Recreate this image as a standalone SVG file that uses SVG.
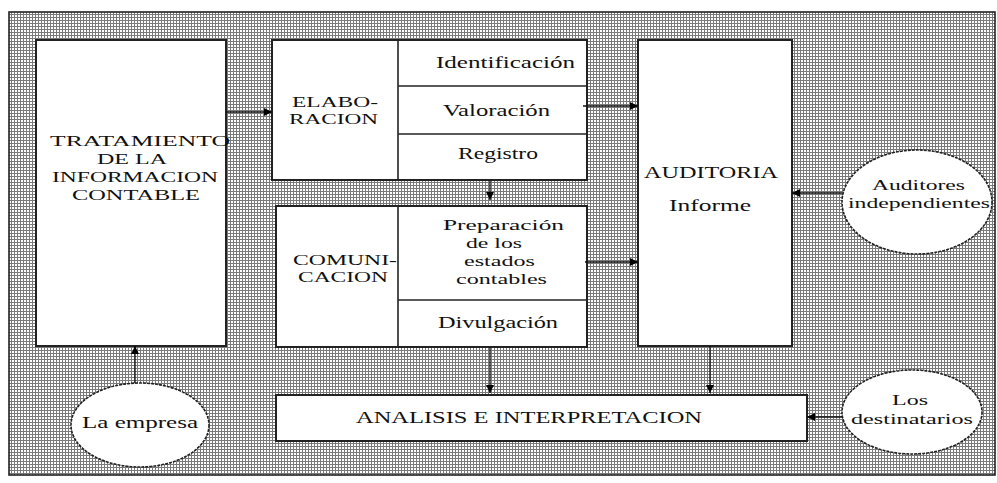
<svg xmlns="http://www.w3.org/2000/svg" width="997" height="483" viewBox="0 0 997 483">
<defs>
<pattern id="dots" width="3" height="3" patternUnits="userSpaceOnUse">
<rect width="3" height="3" fill="#ffffff"/>
<rect x="0" y="2" width="3" height="1" fill="#7a7a7a"/>
<rect x="2" y="0" width="1" height="3" fill="#7a7a7a"/>
</pattern>
<marker id="arr" viewBox="0 0 10 10" refX="10" refY="5" markerWidth="9" markerHeight="8" markerUnits="userSpaceOnUse" orient="auto">
<path d="M0,0 L10,5 L0,10 Z" fill="#000"/>
</marker>
</defs>
<style>
.box{fill:#fff;stroke:#222;stroke-width:2}
.div{stroke:#222;stroke-width:1.6;fill:none}
.ell{fill:#fff;stroke:#222;stroke-width:1.6;stroke-dasharray:3 1}
.con{stroke:#111;stroke-width:1.3;fill:none;marker-end:url(#arr)}
text{font-family:"Liberation Serif","DejaVu Serif",serif;fill:#111}
.up{font-size:17px}
.up2{font-size:15px}
.lo{font-size:16px}
.lo2{font-size:15px}
</style>
<rect width="997" height="483" fill="#fff"/>
<rect x="9" y="12" width="986" height="463" fill="url(#dots)" stroke="#222" stroke-width="1.6"/>

<g id="tratamiento">
<rect class="box" x="36" y="40" width="190" height="306"/>
<text class="up2" x="50" y="146" textLength="180" lengthAdjust="spacingAndGlyphs">TRATAMIENTO</text>
<text class="up2" x="97" y="164" textLength="70" lengthAdjust="spacingAndGlyphs">DE LA</text>
<text class="up2" x="52" y="182" textLength="166" lengthAdjust="spacingAndGlyphs">INFORMACION</text>
<text class="up2" x="72" y="200" textLength="128" lengthAdjust="spacingAndGlyphs">CONTABLE</text>
</g>

<g id="elaboracion">
<rect class="box" x="272" y="40" width="315" height="140"/>
<line class="div" x1="398" y1="40" x2="398" y2="180"/>
<line class="div" x1="398" y1="86" x2="587" y2="86"/>
<line class="div" x1="398" y1="134" x2="587" y2="134"/>
<text class="up2" x="292" y="107" textLength="86" lengthAdjust="spacingAndGlyphs">ELABO-</text>
<text class="up2" x="289" y="124" textLength="89" lengthAdjust="spacingAndGlyphs">RACION</text>
<text class="lo" x="436" y="68" textLength="139" lengthAdjust="spacingAndGlyphs">Identificación</text>
<text class="lo" x="443" y="116" textLength="107" lengthAdjust="spacingAndGlyphs">Valoración</text>
<text class="lo" x="458" y="159" textLength="80" lengthAdjust="spacingAndGlyphs">Registro</text>
</g>

<g id="comunicacion">
<rect class="box" x="276" y="206" width="311" height="141"/>
<line class="div" x1="398" y1="206" x2="398" y2="347"/>
<line class="div" x1="398" y1="300" x2="587" y2="300"/>
<text class="up2" x="293" y="265" textLength="104" lengthAdjust="spacingAndGlyphs">COMUNI-</text>
<text class="up2" x="298" y="282" textLength="90" lengthAdjust="spacingAndGlyphs">CACION</text>
<text class="lo2" x="443" y="230" textLength="121" lengthAdjust="spacingAndGlyphs">Preparación</text>
<text class="lo2" x="466" y="248" textLength="56" lengthAdjust="spacingAndGlyphs">de los</text>
<text class="lo2" x="464" y="266" textLength="71" lengthAdjust="spacingAndGlyphs">estados</text>
<text class="lo2" x="456" y="284" textLength="91" lengthAdjust="spacingAndGlyphs">contables</text>
<text class="lo" x="438" y="328" textLength="120" lengthAdjust="spacingAndGlyphs">Divulgación</text>
</g>

<g id="auditoria">
<rect class="box" x="638" y="40" width="154" height="306"/>
<text class="up" x="644" y="178" textLength="134" lengthAdjust="spacingAndGlyphs">AUDITORIA</text>
<text class="lo" x="669" y="211" textLength="82" lengthAdjust="spacingAndGlyphs">Informe</text>
</g>

<g id="analisis">
<rect class="box" x="276" y="395" width="531" height="46"/>
<text class="up" x="356" y="423" textLength="346" lengthAdjust="spacingAndGlyphs">ANALISIS E INTERPRETACION</text>
</g>

<g id="auditores">
<ellipse class="ell" cx="917" cy="202" rx="75" ry="52"/>
<text class="lo2" x="872" y="190" textLength="93" lengthAdjust="spacingAndGlyphs">Auditores</text>
<text class="lo2" x="848" y="208" textLength="142" lengthAdjust="spacingAndGlyphs">independientes</text>
</g>

<g id="empresa">
<ellipse class="ell" cx="140" cy="425" rx="69" ry="42"/>
<text class="lo" x="82" y="428" textLength="116" lengthAdjust="spacingAndGlyphs">La empresa</text>
</g>

<g id="destinatarios">
<ellipse class="ell" cx="912" cy="412" rx="70" ry="42"/>
<text class="lo2" x="892" y="405" textLength="36" lengthAdjust="spacingAndGlyphs">Los</text>
<text class="lo2" x="851" y="424" textLength="122" lengthAdjust="spacingAndGlyphs">destinatarios</text>
</g>

<g id="connectors">
<line class="con" x1="226" y1="112" x2="272" y2="112"/>
<line class="con" x1="583" y1="106" x2="638" y2="106"/>
<line class="con" x1="585" y1="262" x2="638" y2="262"/>
<line class="con" x1="490" y1="180" x2="490" y2="200"/>
<line class="con" x1="490" y1="347" x2="490" y2="393"/>
<line class="con" x1="710" y1="346" x2="710" y2="393"/>
<line class="con" x1="842" y1="193" x2="792" y2="193"/>
<line class="con" x1="842" y1="417" x2="807" y2="417"/>
<line class="con" x1="135" y1="383" x2="135" y2="346"/>
</g>
</svg>
